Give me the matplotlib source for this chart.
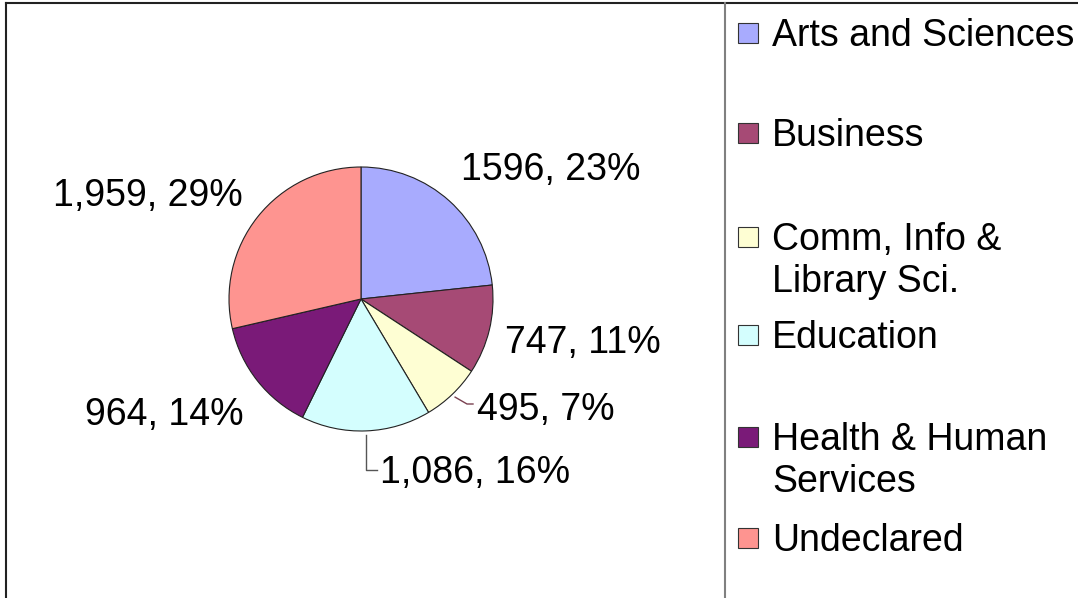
import numpy as np
import matplotlib
matplotlib.use('Agg')
import matplotlib.pyplot as plt
from matplotlib.patches import Rectangle

plt.rcParams['font.family'] = ['Liberation Sans', 'DejaVu Sans']

# Data
categories = ['Arts and Sciences', 'Business', 'Comm, Info &\nLibrary Sci.',
              'Education', 'Health & Human\nServices', 'Undeclared']
counts = [1596, 747, 495, 1086, 964, 1959]
count_labels = ['1596', '747', '495', '1,086', '964', '1,959']
colors = ['#a8abfe', '#a64a75', '#fefed3', '#d4fefe', '#7a1a78', '#fe9490']

W, H = 1078, 598
CX, CY, R = 361, 299, 132  # pie centre and radius in pixels


def px(x, y):
    # pixel position -> data coordinates (1 unit = pie radius)
    return (x - CX) / R, (CY - y) / R


fig = plt.figure(figsize=(W / 100, H / 100), dpi=100)
ax = fig.add_axes([0, 0, 1, 1])
wedges, _ = ax.pie(counts, colors=colors, startangle=90, counterclock=False,
                   wedgeprops=dict(edgecolor='#222222', linewidth=0.8))
ax.set_aspect('auto')
ax.set_xlim(px(0, 0)[0], px(W, 0)[0])
ax.set_ylim(px(0, H)[1], px(0, 0)[1])
ax.axis('off')

# data labels
total = sum(counts)
pcts = [round(100 * c / total) for c in counts]
label_pos = [(551, 170), (583, 343), (546, 410), (475, 473), (164, 415), (148, 196)]
for lab, p, pos in zip(count_labels, pcts, label_pos):
    x, y = px(*pos)
    ax.text(x, y, f'{lab}, {p}%', fontsize=27, ha='center', va='center')

# leader lines for the two small bottom labels
cum = np.cumsum([0] + counts) / total
mids = 90 - 360 * (cum[:-1] + cum[1:]) / 2
a = np.radians(mids[2])
x0, y0 = 1.03 * np.cos(a), 1.03 * np.sin(a)
ex, ey = px(467, 404)
tx, _ = px(473, 404)
ax.plot([x0, ex, tx], [y0, ey, ey], color='#7a4050', lw=1)
a = np.radians(mids[3])
x0, y0 = 1.03 * np.cos(a), 1.03 * np.sin(a)
_, ey = px(0, 470)
tx, _ = px(377, 470)
ax.plot([x0, x0, tx], [y0, ey, ey], color='#555555', lw=1)

# chart border and legend divider
fig.add_artist(plt.Line2D([6 / W, 6 / W], [0, 1 - 3 / H], color='#222222', lw=1.5,
                          transform=fig.transFigure))
fig.add_artist(plt.Line2D([6 / W, 1], [1 - 3 / H, 1 - 3 / H], color='#222222', lw=1.5,
                          transform=fig.transFigure))
fig.add_artist(plt.Line2D([725 / W, 725 / W], [0, 1 - 3 / H], color='#808080', lw=1.5,
                          transform=fig.transFigure))

# legend
leg_y = [33, 133, 237, 335, 437, 538]
for cat, col, y in zip(categories, colors, leg_y):
    fig.add_artist(Rectangle(((738) / W, 1 - (y + 10) / H), 20 / W, 20 / H,
                             facecolor=col, edgecolor='#333333', lw=0.8,
                             transform=fig.transFigure))
    for k, line in enumerate(cat.split('\n')):
        fig.text(772 / W, 1 - (y + 3 + 42 * k) / H, line, fontsize=27,
                 ha='left', va='center')

fig.savefig('out.png', dpi=100)
